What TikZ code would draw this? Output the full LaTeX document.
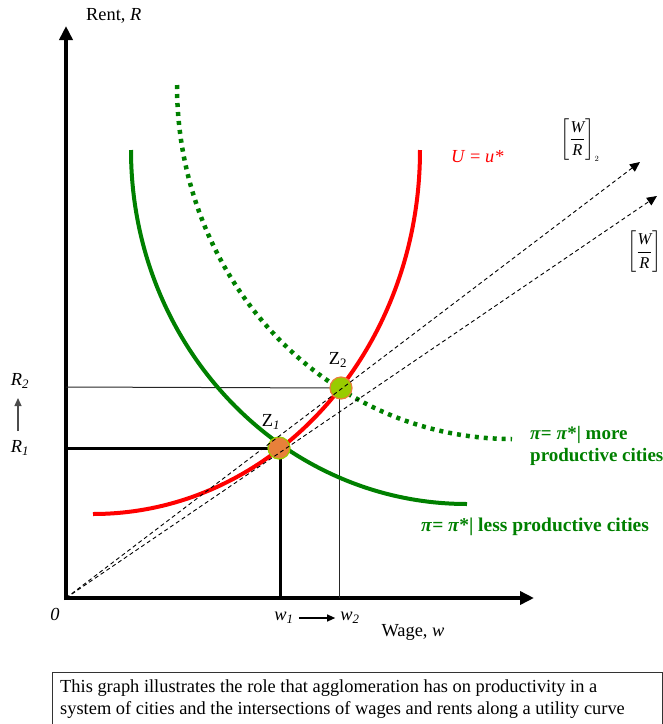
\documentclass[tikz,border=0pt]{standalone}
\usepackage{amsmath}
\usepackage{fontspec}
\setmainfont{Liberation Serif}
\usetikzlibrary{arrows.meta}
\definecolor{gr}{RGB}{0,128,0}
\definecolor{rd}{RGB}{255,0,0}
\definecolor{org}{RGB}{232,128,58}
\definecolor{lime}{RGB}{153,204,0}
\begin{document}
\begin{tikzpicture}[x=1pt,y=-1pt,
  axis/.style={line width=4pt,-{Triangle[length=14pt,width=13pt]}},
  guide/.style={line width=1pt,black!85},
  guidethick/.style={line width=3pt,black},
  ray/.style={line width=0.9pt,dash pattern=on 4pt off 3pt,-{Triangle[length=10pt,width=9pt]}},
  lbl/.style={font=\fontsize{18.4}{21.5}\selectfont,inner sep=0pt},
  glbl/.style={font=\fontsize{19}{22.5}\selectfont\bfseries,text=gr,inner sep=0pt,align=left},
  dot/.style={circle,minimum size=22pt,inner sep=0pt,line width=1.2pt}]
\useasboundingbox (0,0) rectangle (663,724);
\clip (0,0) rectangle (663,724);
% axes
\coordinate (O) at (66,598);
\coordinate (Ytop) at (66,26);
\coordinate (Xend) at (534,598);
\draw[axis] (66,600) -- (Ytop);
\draw[axis] (64,598) -- (Xend);
% points
\coordinate (Z1) at (279,448);
\coordinate (Z2) at (341,388);
\coordinate (R1) at (66,448);
\coordinate (R2) at (66,387);
\coordinate (W1) at (280,598);
\coordinate (W2) at (339,598);
\draw[guide] (R2) -- (Z2);
\draw[guide] (339,388) -- (W2);
\draw[guidethick] (R1) -- (Z1);
\draw[guidethick] (280,448) -- (W1);
% curves (quarter ellipses)
\draw[gr,line width=4pt] (131,150) .. controls (131,345.5) and (281.4,504) .. (467,504);
\draw[gr,line width=4.5pt,dash pattern=on 4pt off 5pt] (177,85) .. controls (177,280.5) and (327,439) .. (512,439);
\draw[rd,line width=4pt] (93,514) .. controls (273.6,514) and (420,351) .. (420,150);
% equilibrium dots
\node[dot,fill=org,draw=lime] (z1) at (Z1) {};
\node[dot,fill=lime,draw=org] (z2) at (Z2) {};
% rays
\coordinate (A2) at (640,162);
\coordinate (A1) at (657,196);
\draw[ray] (O) -- (A2);
\draw[ray] (O) -- (A1);
% labels
\node[lbl,anchor=west] (yl) at (86,16) {Rent, \textit{R}};
\node[lbl,anchor=north] (xl) at (413,624) {Wage, \textit{w}};
\node[lbl] (zero) at (55,614) {\textit{0}};
\node[lbl] (w1) at (284,618) {\textit{w}\textsubscript{\textit{1}}};
\node[lbl] (w2) at (350,618) {\textit{w}\textsubscript{\textit{2}}};
\draw[line width=1.2pt,-{Triangle[length=8pt,width=7pt]}] ([xshift=5pt]w1.east) -- ([xshift=-5pt]w2.west);
\node[lbl] (r2) at (20,381) {\textit{R}\textsubscript{\textit{2}}};
\node[lbl] (r1) at (20,448) {\textit{R}\textsubscript{\textit{1}}};
\draw[line width=1.2pt,black!70,-{Triangle[length=8pt,width=7pt]}] (18,431) -- (18,398);
\node[lbl] (z1l) at (271,422) {Z\textsubscript{\textit{1}}};
\node[lbl] (z2l) at (338,360) {Z\textsubscript{2}};
\node[lbl,text=rd,anchor=west] (ul) at (451,157) {\textit{U} = \textit{u*}};
\node[lbl,anchor=west,font=\fontsize{16.5}{18}\selectfont] (wr2) at (560,140) {$\left[\displaystyle\frac{\textit{W}}{\textit{R}}\right]_{\scriptscriptstyle 2}$};
\node[lbl,anchor=west,font=\fontsize{16.5}{18}\selectfont] (wr1) at (627,252) {$\left[\displaystyle\frac{\textit{W}}{\textit{R}}\right]$};
\node[glbl,anchor=north west] (more) at (530,426) {\textit{π}= \textit{π}*| more\\productive cities};
\node[glbl,anchor=west,font=\fontsize{19.5}{22.5}\selectfont\bfseries] (less) at (421,527) {\textit{π}= \textit{π}*| less productive cities};
% caption box
\draw[line width=0.8pt,black!80] (52,672) rectangle (662,760);
\node[lbl,anchor=north west,align=left] (cap) at (60,680) {This graph illustrates the role that agglomeration has on productivity in a\\system of cities and the intersections of wages and rents along a utility curve};
\end{tikzpicture}
\end{document}
